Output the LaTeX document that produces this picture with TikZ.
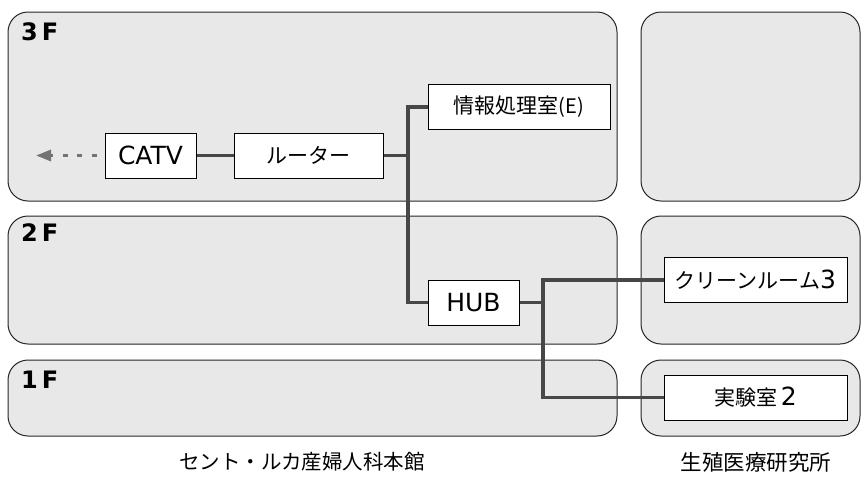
\documentclass[tikz,border=0pt]{standalone}
\usepackage{fontspec}
\setmainfont{Noto Sans CJK JP}
\newfontfamily\latfont{DejaVu Sans}
\usetikzlibrary{arrows.meta}
\newcommand{\lt}[1]{{\latfont\fontsize{25}{27}\selectfont #1}}
\begin{document}
\begin{tikzpicture}[x=1pt,y=-1pt,
  panel/.style={draw=black!85, line width=1pt, fill=black!9, rounded corners=20pt},
  box/.style={draw=black, line width=1pt, fill=white, minimum height=45pt, inner sep=0pt, font=\fontsize{21}{23}\selectfont},
  link/.style={draw=black!72, line width=3.2pt},
  floor/.style={font=\latfont\fontsize{24}{26}\selectfont\bfseries, anchor=west, inner sep=0pt},
  caption/.style={font=\fontsize{20.5}{23}\selectfont}]
\useasboundingbox (0,0) rectangle (862,480);
% panels
\path[panel] (8,12) rectangle (617,201);
\path[panel] (8,216) rectangle (617,344);
\path[panel] (8,360) rectangle (617,436);
\path[panel] (641,12) rectangle (860,201);
\path[panel] (641,216) rectangle (860,344);
\path[panel] (641,360) rectangle (860,436);
% floor labels
\node[floor] (f3) at (21,31.5) {3\kern4pt F};
\node[floor] (f2) at (21,233) {2\kern4pt F};
\node[floor] (f1) at (21,380) {1\kern4pt F};
% boxes
\node[box, minimum width=91pt] (catv) at (150.5,155.5) {\lt{CATV}};
\node[box, minimum width=149pt] (router) at (308.5,155.5) {ルーター};
\node[box, minimum width=182pt] (info) at (519,107) {情報処理室{\fontsize{20}{22}\selectfont(E)}};
\node[box, minimum width=91pt] (hub) at (473.5,302.5) {\lt{HUB}};
\node[box, minimum width=183pt] (clean) at (755.5,280) {クリーンルーム\lt{3}};
\node[box, minimum width=183pt] (lab) at (755.5,397.5) {実験室\,\lt{2}};
% connectors
\coordinate (j1) at (408,0);
\coordinate (j2) at (543,0);
\coordinate (out) at (36,155.5);
\draw[link] (router.east) -- (router.east -| j1);
\draw[link] (info.west) -| (j1 |- hub.west) -- (hub.west);
\draw[link] (hub.east) -- (hub.east -| j2);
\draw[link] (clean.west) -| (j2 |- lab.west) -- (lab.west);
\draw[link] (catv.east) -- (router.west);
\draw[black!55, line width=3pt, dash pattern=on 5pt off 9.5pt, dash phase=6.5pt,
  -{Triangle[length=15pt,width=11pt]}] (catv.west) -- (out);
% captions
\node[caption] (c1) at (302,462) {セント・ルカ産婦人科本館};
\node[caption, font=\fontsize{21.5}{24}\selectfont] (c2) at (756,462) {生殖医療研究所};
\end{tikzpicture}
\end{document}
